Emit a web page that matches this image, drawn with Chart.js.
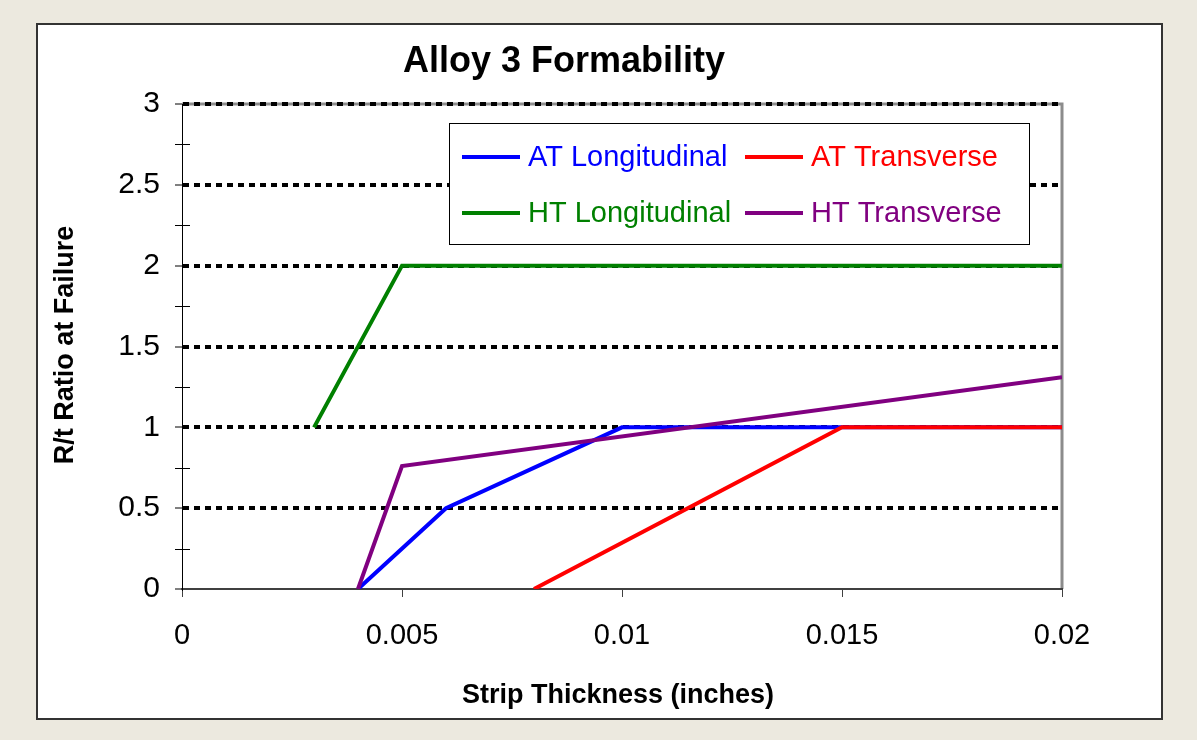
<!DOCTYPE html>
<html>
<head>
<meta charset="utf-8">
<title>Alloy 3 Formability</title>
<script src="https://cdn.jsdelivr.net/npm/chart.js@4.4.1/dist/chart.umd.min.js"></script>
<style>
  html, body { margin: 0; padding: 0; background: #ECE9DF; }
  canvas { display: block; }
</style>
</head>
<body>
<canvas id="chart" width="1197" height="740"></canvas>
<script>
// Strip thickness (inches) and R/t ratio for each series
const atLongX = [0.004, 0.006, 0.01, 0.02];
const atLongY = [0, 0.5, 1, 1];
const atTransX = [0.008, 0.015, 0.02];
const atTransY = [0, 1, 1];
const htLongX = [0.003, 0.005, 0.02];
const htLongY = [1, 2, 2];
const htTransX = [0.004, 0.005, 0.02];
const htTransY = [0, 0.76, 1.31];

const seriesNames = ['AT Longitudinal', 'AT Transverse', 'HT Longitudinal', 'HT Transverse'];
const seriesColors = ['#0000FF', '#FF0000', '#008000', '#800080'];
const drawOrder = [3, 1, 2, 0]; // lower = drawn on top

const xTicks = [0, 0.005, 0.01, 0.015, 0.02];
const yTicks = [0, 0.5, 1, 1.5, 2, 2.5, 3];
const yMinorTicks = [0.25, 0.75, 1.25, 1.75, 2.25, 2.75];

const FONT = '"Liberation Sans", Arial, sans-serif';
Chart.defaults.font.family = FONT;
Chart.defaults.color = '#000';

const toPoints = (xs, ys) => xs.map((x, i) => ({ x: x, y: ys[i] }));
const seriesData = [
    toPoints(atLongX, atLongY),
    toPoints(atTransX, atTransY),
    toPoints(htLongX, htLongY),
    toPoints(htTransX, htTransY)
];

// frame, titles, minor ticks and the boxed legend
const decorations = {
    id: 'decorations',
    beforeDraw(chart) {
        const { ctx, chartArea: a } = chart;
        ctx.save();
        ctx.fillStyle = '#ECE9DF';
        ctx.fillRect(0, 0, chart.width, chart.height);
        ctx.fillStyle = '#FFFFFF';
        ctx.fillRect(36, 23, 1127, 697);
        ctx.strokeStyle = '#333333';
        ctx.lineWidth = 2;
        ctx.strokeRect(37, 24, 1125, 695);
        // grey plot border, top and right
        ctx.strokeStyle = '#8C8C8C';
        ctx.lineWidth = 3;
        ctx.beginPath();
        ctx.moveTo(a.left, a.top);
        ctx.lineTo(a.right, a.top);
        ctx.lineTo(a.right, a.bottom);
        ctx.stroke();
        ctx.restore();
    },
    afterDraw(chart) {
        const { ctx, chartArea: a } = chart;
        const y = chart.scales.y;
        ctx.save();

        // minor ticks across the value axis
        ctx.strokeStyle = '#000';
        ctx.lineWidth = 1;
        yMinorTicks.forEach(v => {
            const py = Math.round(y.getPixelForValue(v)) + 0.5;
            ctx.beginPath();
            ctx.moveTo(a.left - 7, py);
            ctx.lineTo(a.left + 8, py);
            ctx.stroke();
        });

        // chart title
        ctx.fillStyle = '#000';
        ctx.textAlign = 'center';
        ctx.textBaseline = 'alphabetic';
        ctx.font = 'bold 36px ' + FONT;
        ctx.fillText('Alloy 3 Formability', 564, 72);

        // axis titles
        ctx.font = 'bold 27px ' + FONT;
        ctx.fillText('Strip Thickness (inches)', 618, 703);
        ctx.save();
        ctx.translate(73, 345);
        ctx.rotate(-Math.PI / 2);
        ctx.fillText('R/t Ratio at Failure', 0, 0);
        ctx.restore();

        // legend box
        ctx.fillStyle = '#FFFFFF';
        ctx.fillRect(449, 123, 580, 121);
        ctx.strokeStyle = '#000';
        ctx.lineWidth = 1;
        ctx.strokeRect(449.5, 123.5, 580, 121);
        const cols = [462, 745];
        const rows = [157, 213];
        ctx.font = '29px ' + FONT;
        ctx.textAlign = 'left';
        ctx.textBaseline = 'middle';
        seriesNames.forEach((name, i) => {
            const lx = cols[i % 2];
            const ly = rows[Math.floor(i / 2)];
            ctx.strokeStyle = seriesColors[i];
            ctx.lineWidth = 4;
            ctx.beginPath();
            ctx.moveTo(lx, ly);
            ctx.lineTo(lx + 58, ly);
            ctx.stroke();
            ctx.fillStyle = seriesColors[i];
            ctx.fillText(name, lx + 66, ly + 1);
        });
        ctx.restore();
    }
};

new Chart(document.getElementById('chart'), {
    type: 'line',
    data: {
        datasets: seriesNames.map((name, i) => ({
            label: name,
            data: seriesData[i],
            borderColor: seriesColors[i],
            backgroundColor: seriesColors[i],
            borderWidth: 4,
            pointRadius: 0,
            tension: 0,
            order: drawOrder[i]
        }))
    },
    options: {
        responsive: false,
        animation: false,
        layout: { padding: { left: 0, top: 104, right: 135, bottom: 0 } },
        plugins: {
            legend: { display: false },
            title: { display: false },
            tooltip: { enabled: false }
        },
        scales: {
            x: {
                type: 'linear',
                min: 0,
                max: 0.02,
                afterBuildTicks: s => { s.ticks = xTicks.map(v => ({ value: v })); },
                afterFit: s => { s.height = 151; },
                ticks: {
                    font: { size: 29 },
                    padding: 22,
                    maxRotation: 0,
                    callback: v => String(v)
                },
                grid: {
                    drawOnChartArea: false,
                    tickLength: 8,
                    tickColor: '#404040',
                    tickWidth: 1
                },
                border: { color: '#404040', width: 2 }
            },
            y: {
                type: 'linear',
                min: 0,
                max: 3,
                afterBuildTicks: s => { s.ticks = yTicks.map(v => ({ value: v })); },
                afterFit: s => { s.width = 182; },
                ticks: {
                    font: { size: 30 },
                    padding: 15,
                    callback: v => String(v)
                },
                grid: {
                    color: c => (c.tick && c.tick.value === 0 ? 'rgba(0,0,0,0)' : '#000'),
                    lineWidth: 4,
                    tickLength: 7,
                    tickColor: '#000',
                    tickWidth: 1
                },
                border: { color: '#000', width: 1, dash: [6, 5] }
            }
        }
    },
    plugins: [decorations]
});
</script>
</body>
</html>
